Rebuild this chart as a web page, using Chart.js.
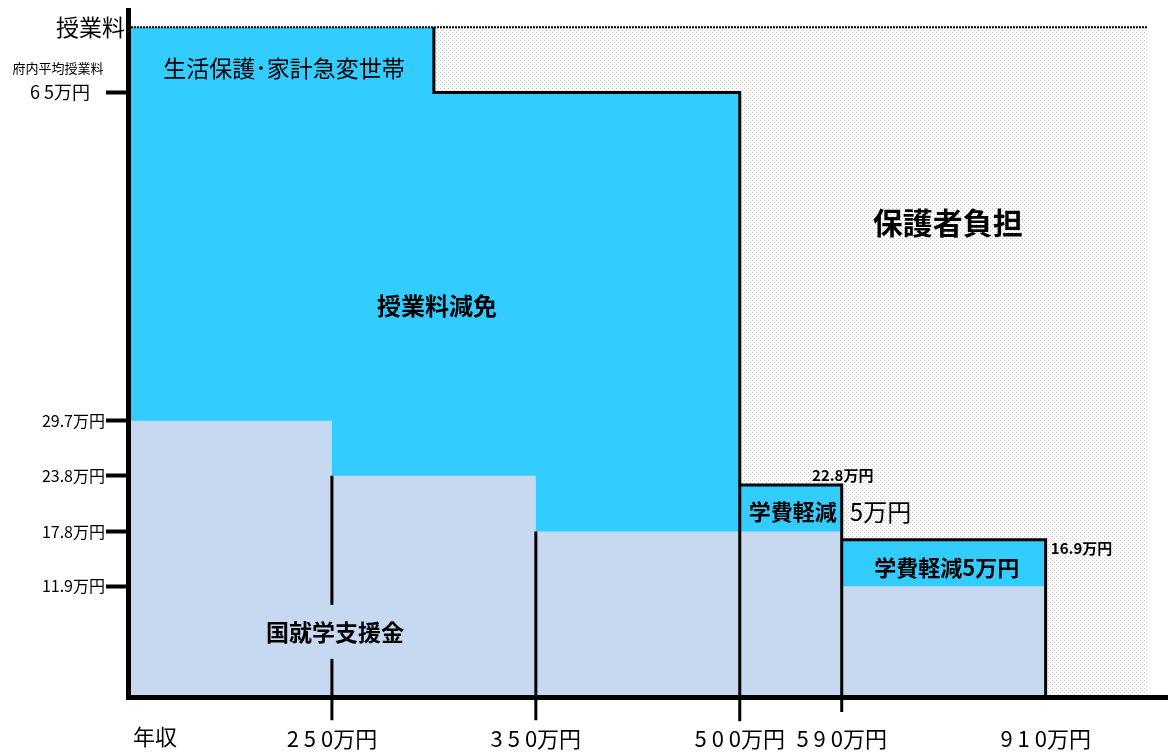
<!DOCTYPE html>
<html lang="ja">
<head>
<meta charset="utf-8">
<script src="https://cdn.jsdelivr.net/npm/chart.js@4.4.1/dist/chart.umd.min.js"></script>
<style>
  html, body { margin: 0; padding: 0; background: #fff; }
  canvas { display: block; }
</style>
</head>
<body>
<canvas id="chart" width="1168" height="754"></canvas>
<script>
// income bands on a schematic x axis: one unit per band, 500-590 is half a band
const incomeEdges = [0, 1, 2, 3, 3.5, 4.5];
const incomeLabels = ['250万円', '350万円', '500万円', '590万円', '910万円'];

// 国就学支援金 per band (万円)
const grantValues = [29.7, 23.8, 17.8, 17.8, 11.9];

// 授業料減免 / 学費軽減 tops (万円); first step is the full tuition level
const reliefEdges = [0, 1.5, 3, 3.5, 4.5];
const reliefValues = [72, 65, 22.8, 16.9];

const fullTuition = 72;   // 授業料 (drawn as a schematic level)
const avgTuition = 65;    // 府内平均授業料
const parentEnd = 5;      // right end of 保護者負担 area

const yTickValues = [11.9, 17.8, 23.8, 29.7, 65, 72];
const yTickLabels = ['11.9万円', '17.8万円', '23.8万円', '29.7万円', '', ''];

const FONT = "'Noto Sans CJK JP', 'Noto Sans', sans-serif";
const CYAN = '#33CCFF';
const PALE = '#C6D9F0';

function makePattern() {
    const c = document.createElement('canvas');
    c.width = 4;
    c.height = 4;
    const g = c.getContext('2d');
    g.fillStyle = '#ffffff';
    g.fillRect(0, 0, 4, 4);
    g.fillStyle = '#c4c4c4';
    g.fillRect(0, 0, 1, 1);
    g.fillRect(2, 2, 1, 1);
    return g.createPattern(c, 'repeat');
}

const stepPoints = (edges, values) =>
    edges.map((x, i) => ({ x: x, y: values[Math.min(i, values.length - 1)] }));

const outline = (pts) => ({
    data: pts,
    borderColor: '#000',
    borderWidth: 3,
    pointRadius: 0,
    fill: false,
    clip: false
});

const datasets = [
    // black edges (some run below the axis as tick marks)
    outline([
        { x: reliefEdges[1], y: reliefValues[0] },
        { x: reliefEdges[1], y: reliefValues[1] },
        { x: reliefEdges[2], y: reliefValues[1] },
        { x: reliefEdges[2], y: -2.6 }
    ]),
    outline([
        { x: reliefEdges[2], y: reliefValues[2] },
        { x: reliefEdges[3], y: reliefValues[2] },
        { x: reliefEdges[3], y: -1.6 }
    ]),
    outline([
        { x: reliefEdges[3], y: reliefValues[3] },
        { x: reliefEdges[4], y: reliefValues[3] },
        { x: reliefEdges[4], y: 0 }
    ]),
    outline([{ x: incomeEdges[1], y: grantValues[1] }, { x: incomeEdges[1], y: -2.5 }]),
    outline([{ x: incomeEdges[2], y: grantValues[2] }, { x: incomeEdges[2], y: -2.5 }]),
    {
        // dotted top line at the tuition level
        data: [{ x: 0, y: fullTuition }, { x: parentEnd, y: fullTuition }],
        borderColor: '#000',
        borderWidth: 2,
        borderDash: [2, 1],
        pointRadius: 0,
        fill: false,
        clip: false
    },
    {
        // 国就学支援金
        data: stepPoints(incomeEdges, grantValues),
        stepped: true,
        borderWidth: 0,
        pointRadius: 0,
        backgroundColor: PALE,
        fill: 'origin'
    },
    {
        // 授業料減免 and 学費軽減
        data: stepPoints(reliefEdges, reliefValues),
        stepped: true,
        borderWidth: 0,
        pointRadius: 0,
        backgroundColor: CYAN,
        fill: 'origin'
    },
    {
        // 保護者負担
        data: [{ x: 0, y: fullTuition }, { x: parentEnd, y: fullTuition }],
        borderWidth: 0,
        pointRadius: 0,
        backgroundColor: makePattern(),
        fill: 'origin'
    }
];

const textPlugin = {
    id: 'regionText',
    afterDatasetsDraw(chart) {
        const { ctx, chartArea } = chart;
        const x = chart.scales.x;
        const y = chart.scales.y;

        const put = (str, px, py, size, bold, align) => {
            ctx.font = (bold ? 'bold ' : '') + size + 'px ' + FONT;
            ctx.textAlign = align || 'center';
            ctx.textBaseline = 'middle';
            ctx.fillStyle = '#000';
            ctx.fillText(str, px, py);
        };

        ctx.save();

        put('生活保護･家計急変世帯', x.getPixelForValue(0.765), y.getPixelForValue(67.6), 23, false);
        put('授業料減免', x.getPixelForValue(1.515), y.getPixelForValue(42.1), 24, true);
        put('保護者負担', x.getPixelForValue(4.02), y.getPixelForValue(51), 30, true);

        // 国就学支援金 sits on a pale box that hides the 250 line
        const gx = x.getPixelForValue(1.015);
        const gy = y.getPixelForValue(7);
        ctx.fillStyle = PALE;
        ctx.fillRect(gx - 74, gy - 27, 148, 54);
        put('国就学支援金', gx, gy, 23, true);

        put('学費軽減', x.getPixelForValue(3.26), y.getPixelForValue(19.9), 22, true);
        put('5万円', x.getPixelForValue(3.69), y.getPixelForValue(19.9), 24, false);
        put('22.8万円', x.getPixelForValue(3.505), y.getPixelForValue(23.85), 15, true);
        put('学費軽減5万円', x.getPixelForValue(4.015), y.getPixelForValue(13.86), 22, true);
        put('16.9万円', x.getPixelForValue(4.676), y.getPixelForValue(16.0), 15, true);

        // axis captions
        put('授業料', chartArea.left - 3, y.getPixelForValue(fullTuition), 23, false, 'right');
        const ay = y.getPixelForValue(avgTuition);
        put('府内平均授業料', 58, ay - 24, 13, false);
        put('6 5万円', 60, ay, 18, false);
        put('年収', 133, chartArea.bottom + 40, 22, false, 'left');

        ctx.restore();
    }
};

new Chart(document.getElementById('chart'), {
    type: 'line',
    data: { datasets: datasets },
    options: {
        responsive: false,
        animation: false,
        events: [],
        layout: { padding: { top: 10, right: 0, bottom: 0, left: 0 } },
        plugins: {
            legend: { display: false },
            tooltip: { enabled: false }
        },
        scales: {
            x: {
                type: 'linear',
                min: 0,
                max: 5.1,
                afterFit: (s) => { s.height = 57; },
                afterBuildTicks: (s) => {
                    s.ticks = incomeEdges.slice(1).map(v => ({ value: v }));
                },
                grid: { display: false },
                border: { display: true, color: '#000', width: 5, z: 1 },
                ticks: {
                    autoSkip: false,
                    maxRotation: 0,
                    padding: 20,
                    color: '#000',
                    font: { family: FONT, size: 22 },
                    // digits are set loosely in the original
                    callback: (v, i) => incomeLabels[i].replace(/(\d)(?=\d)/g, '$1 ')
                }
            },
            y: {
                type: 'linear',
                min: 0,
                max: 73.8,
                afterFit: (s) => { s.width = 128; },
                afterBuildTicks: (s) => {
                    s.ticks = yTickValues.map(v => ({ value: v }));
                },
                grid: {
                    drawOnChartArea: false,
                    drawTicks: true,
                    tickLength: 22,
                    tickWidth: 4,
                    tickColor: (c) => (c.tick && c.tick.value === fullTuition) ? 'rgba(0,0,0,0)' : '#000'
                },
                border: { display: true, color: '#000', width: 5, z: 1 },
                ticks: {
                    autoSkip: false,
                    padding: 1,
                    color: '#000',
                    font: { family: FONT, size: 16 },
                    callback: (v, i) => yTickLabels[i]
                }
            }
        }
    },
    plugins: [textPlugin]
});
</script>
</body>
</html>
